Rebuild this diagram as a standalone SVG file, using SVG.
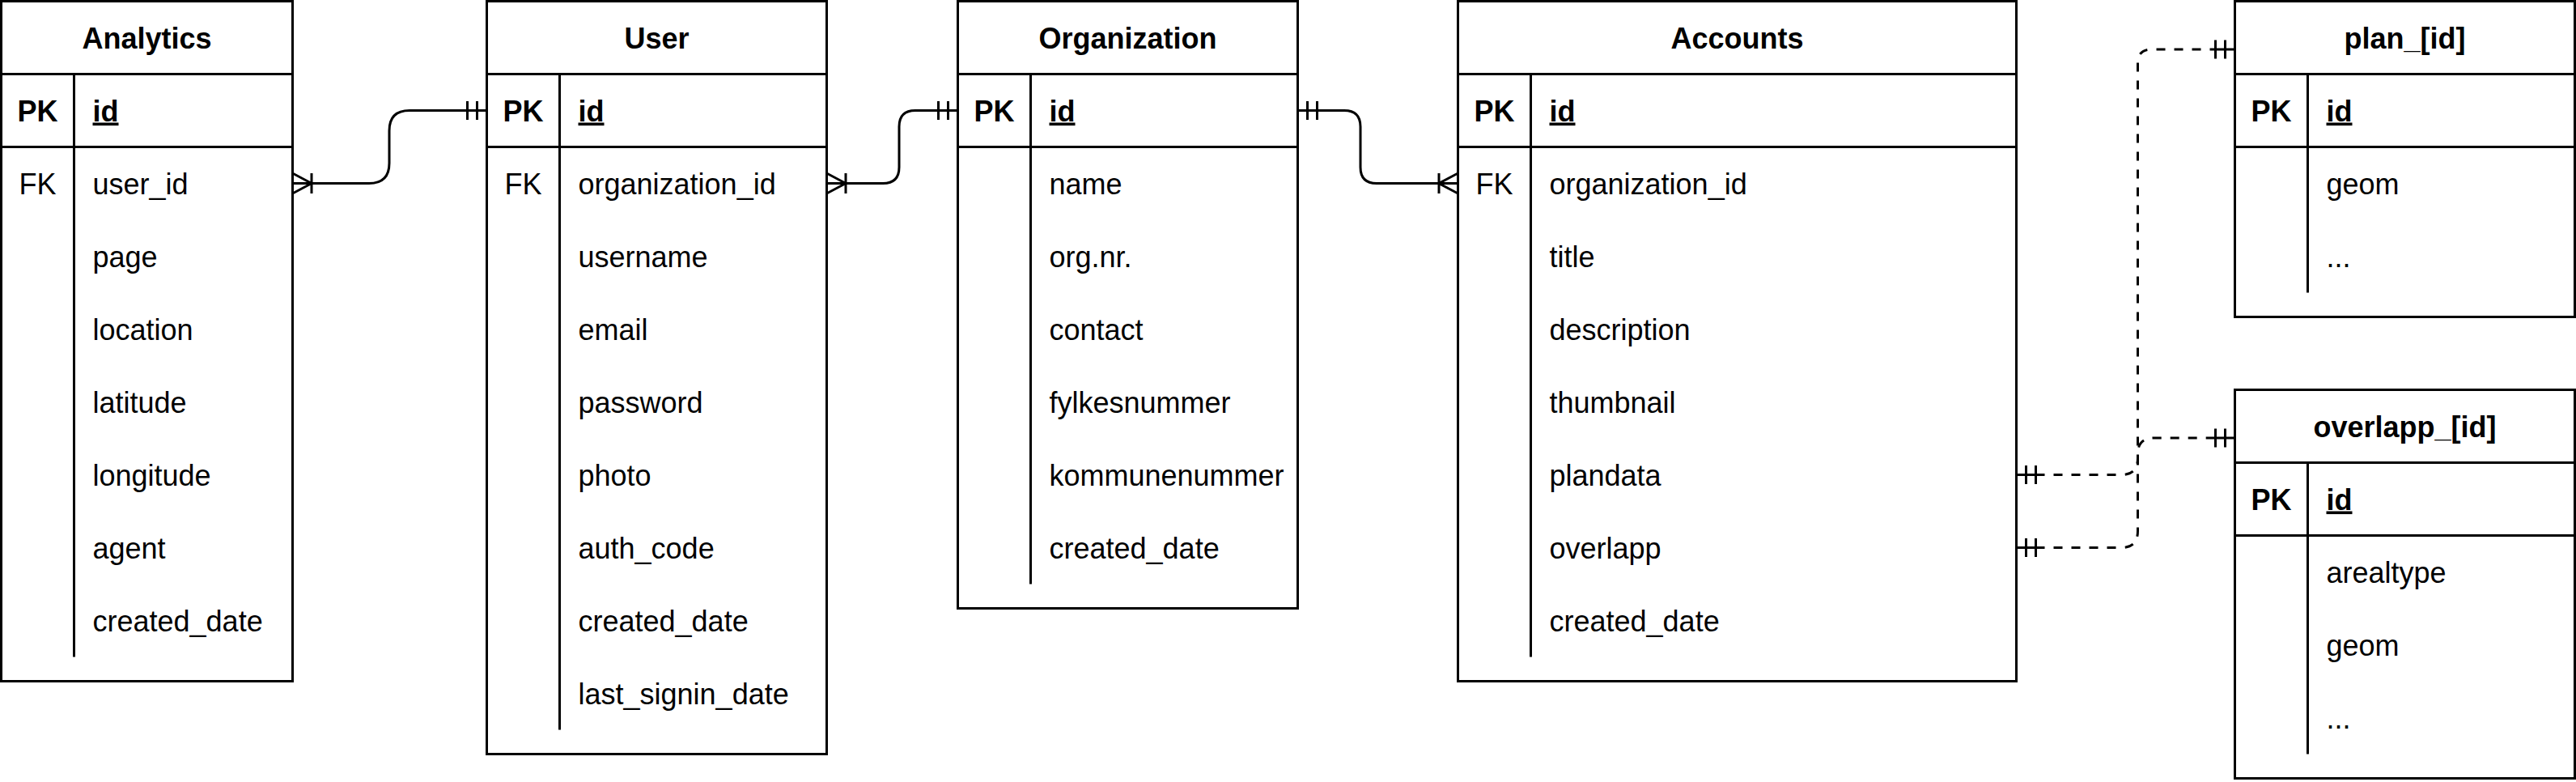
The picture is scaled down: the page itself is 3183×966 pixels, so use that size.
<svg xmlns="http://www.w3.org/2000/svg" xmlns:xlink="http://www.w3.org/1999/xlink" width="3183" height="966" viewBox="0 0 3183 966">
<style>
.box{fill:#fff;stroke:#000;stroke-width:3}
.ln{fill:none;stroke:#000;stroke-width:3}
.t{font-family:"Liberation Sans",Arial,sans-serif;font-size:36px;fill:#000}
.h{font-weight:bold;text-anchor:middle}
.k{text-anchor:middle}
.kb{font-weight:bold;text-anchor:middle}
.pk{font-weight:bold;text-decoration:underline}
.c{fill:none;stroke:#000;stroke-width:3}
.d{stroke-dasharray:11 11}
</style>
<defs>
<path id="many" class="c" d="M0 -12.5 L23.5 0 M0 12.5 L23.5 0 M0 0 H23.5 M23.5 -12.5 V12.5"/>
<path id="one" class="c" d="M0 0 H24 M12 -11.5 V11.5 M24 -11.5 V11.5"/>
</defs>
<rect width="3183" height="966" fill="#fff"/>

<g id="analytics">
<rect class="box" x="1.5" y="1.5" width="360" height="840"/>
<path class="ln" d="M1.5 91.5 H361.5 M1.5 181.5 H361.5 M91.5 91.5 V811.5"/>
<text class="t h" x="181.5" y="59.5">Analytics</text>
<text class="t kb" x="46.5" y="149.5">PK</text>
<text class="t pk" x="114.5" y="149.5">id</text>
<text class="t k" x="46.5" y="239.5">FK</text>
<text class="t" x="114.5" y="239.5">user_id</text>
<text class="t" x="114.5" y="329.5">page</text>
<text class="t" x="114.5" y="419.5">location</text>
<text class="t" x="114.5" y="509.5">latitude</text>
<text class="t" x="114.5" y="599.5">longitude</text>
<text class="t" x="114.5" y="689.5">agent</text>
<text class="t" x="114.5" y="779.5">created_date</text>
</g>

<g id="user">
<rect class="box" x="601.5" y="1.5" width="420" height="930"/>
<path class="ln" d="M601.5 91.5 H1021.5 M601.5 181.5 H1021.5 M691.5 91.5 V901.5"/>
<text class="t h" x="811.5" y="59.5">User</text>
<text class="t kb" x="646.5" y="149.5">PK</text>
<text class="t pk" x="714.5" y="149.5">id</text>
<text class="t k" x="646.5" y="239.5">FK</text>
<text class="t" x="714.5" y="239.5">organization_id</text>
<text class="t" x="714.5" y="329.5">username</text>
<text class="t" x="714.5" y="419.5">email</text>
<text class="t" x="714.5" y="509.5">password</text>
<text class="t" x="714.5" y="599.5">photo</text>
<text class="t" x="714.5" y="689.5">auth_code</text>
<text class="t" x="714.5" y="779.5">created_date</text>
<text class="t" x="714.5" y="869.5">last_signin_date</text>
</g>

<g id="organization">
<rect class="box" x="1183.5" y="1.5" width="420" height="750"/>
<path class="ln" d="M1183.5 91.5 H1603.5 M1183.5 181.5 H1603.5 M1273.5 91.5 V721.5"/>
<text class="t h" x="1393.5" y="59.5">Organization</text>
<text class="t kb" x="1228.5" y="149.5">PK</text>
<text class="t pk" x="1296.5" y="149.5">id</text>
<text class="t" x="1296.5" y="239.5">name</text>
<text class="t" x="1296.5" y="329.5">org.nr.</text>
<text class="t" x="1296.5" y="419.5">contact</text>
<text class="t" x="1296.5" y="509.5">fylkesnummer</text>
<text class="t" x="1296.5" y="599.5">kommunenummer</text>
<text class="t" x="1296.5" y="689.5">created_date</text>
</g>

<g id="accounts">
<rect class="box" x="1801.5" y="1.5" width="690" height="840"/>
<path class="ln" d="M1801.5 91.5 H2491.5 M1801.5 181.5 H2491.5 M1891.5 91.5 V811.5"/>
<text class="t h" x="2146.5" y="59.5">Accounts</text>
<text class="t kb" x="1846.5" y="149.5">PK</text>
<text class="t pk" x="1914.5" y="149.5">id</text>
<text class="t k" x="1846.5" y="239.5">FK</text>
<text class="t" x="1914.5" y="239.5">organization_id</text>
<text class="t" x="1914.5" y="329.5">title</text>
<text class="t" x="1914.5" y="419.5">description</text>
<text class="t" x="1914.5" y="509.5">thumbnail</text>
<text class="t" x="1914.5" y="599.5">plandata</text>
<text class="t" x="1914.5" y="689.5">overlapp</text>
<text class="t" x="1914.5" y="779.5">created_date</text>
</g>

<g id="plan">
<rect class="box" x="2761.5" y="1.5" width="420" height="390"/>
<path class="ln" d="M2761.5 91.5 H3181.5 M2761.5 181.5 H3181.5 M2851.5 91.5 V361.5"/>
<text class="t h" x="2971.5" y="59.5">plan_[id]</text>
<text class="t kb" x="2806.5" y="149.5">PK</text>
<text class="t pk" x="2874.5" y="149.5">id</text>
<text class="t" x="2874.5" y="239.5">geom</text>
<text class="t" x="2874.5" y="329.5">...</text>
</g>

<g id="overlapp">
<rect class="box" x="2761.5" y="481.5" width="420" height="480"/>
<path class="ln" d="M2761.5 571.5 H3181.5 M2761.5 661.5 H3181.5 M2851.5 571.5 V931.5"/>
<text class="t h" x="2971.5" y="539.5">overlapp_[id]</text>
<text class="t kb" x="2806.5" y="629.5">PK</text>
<text class="t pk" x="2874.5" y="629.5">id</text>
<text class="t" x="2874.5" y="719.5">arealtype</text>
<text class="t" x="2874.5" y="809.5">geom</text>
<text class="t" x="2874.5" y="899.5">...</text>
</g>

<g id="connectors">
<path class="c" d="M385 226.5 H456 Q481 226.5 481 201.5 V161.5 Q481 136.5 506 136.5 H577.5"/>
<use xlink:href="#many" transform="translate(361.5,226.5)"/>
<use xlink:href="#one" transform="translate(601.5,136.5) scale(-1,1)"/>

<path class="c" d="M1045 226.5 H1091 Q1111 226.5 1111 206.5 V156.5 Q1111 136.5 1131 136.5 H1159.5"/>
<use xlink:href="#many" transform="translate(1021.5,226.5)"/>
<use xlink:href="#one" transform="translate(1183.5,136.5) scale(-1,1)"/>

<path class="c" d="M1627.5 136.5 H1661 Q1681 136.5 1681 156.5 V206.5 Q1681 226.5 1701 226.5 H1778"/>
<use xlink:href="#one" transform="translate(1603.5,136.5)"/>
<use xlink:href="#many" transform="translate(1801.5,226.5) scale(-1,1)"/>

<path class="c d" d="M2515.5 586.5 H2621 Q2641.5 586.5 2641.5 566 V78 Q2641.5 61 2658.5 61 H2737.5"/>
<use xlink:href="#one" transform="translate(2491.5,586.5)"/>
<use xlink:href="#one" transform="translate(2761.5,61) scale(-1,1)"/>

<path class="c d" d="M2515.5 676.5 H2621 Q2641.5 676.5 2641.5 656 V561 Q2641.5 541 2661.5 541 H2737.5"/>
<use xlink:href="#one" transform="translate(2491.5,676.5)"/>
<use xlink:href="#one" transform="translate(2761.5,541) scale(-1,1)"/>
</g>
</svg>
